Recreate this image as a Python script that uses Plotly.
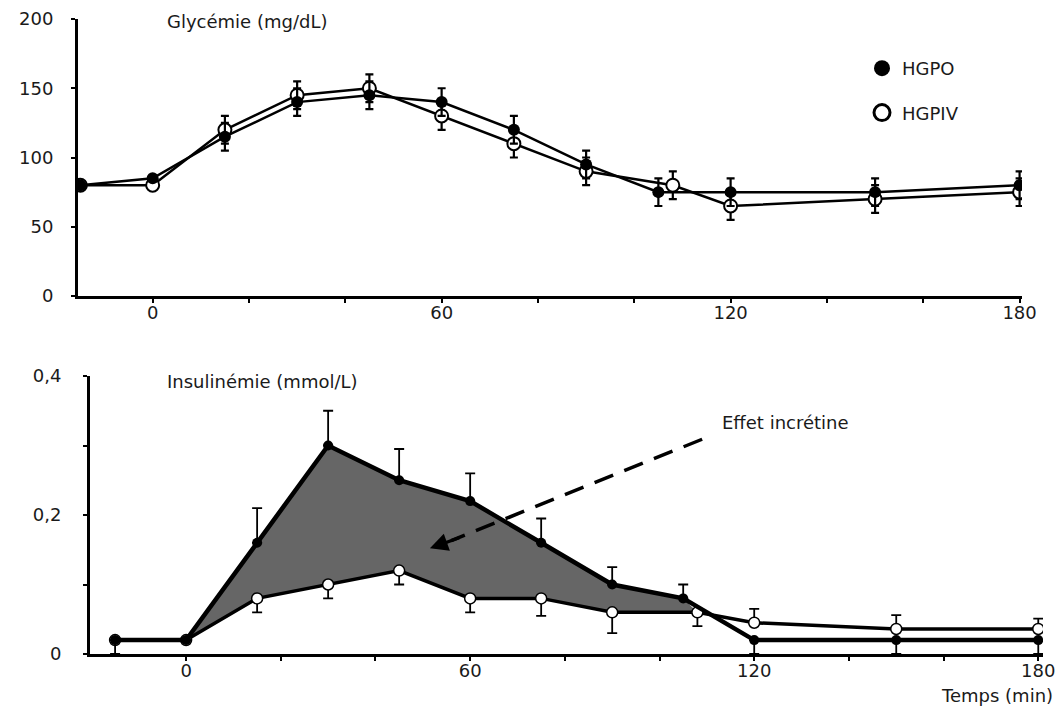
import plotly.graph_objects as go

W, H = 1063, 709

# ---------------- data ----------------
t_hgpo = [-15, 0, 15, 30, 45, 60, 75, 90, 105, 120, 150, 180]
t_hgpiv = [-15, 0, 15, 30, 45, 60, 75, 90, 108, 120, 150, 180]

gly_hgpo = [80, 85, 115, 140, 145, 140, 120, 95, 75, 75, 75, 80]
gly_hgpo_err = [0, 0, 10, 10, 10, 10, 10, 10, 10, 10, 10, 10]
gly_hgpiv = [80, 80, 120, 145, 150, 130, 110, 90, 80, 65, 70, 75]
gly_hgpiv_err = [0, 0, 10, 10, 10, 10, 10, 10, 10, 10, 10, 10]

ins_hgpo = [0.02, 0.02, 0.16, 0.30, 0.25, 0.22, 0.16, 0.10, 0.08, 0.02, 0.02, 0.02]
ins_hgpo_up = [0, 0, 0.05, 0.05, 0.045, 0.04, 0.035, 0.025, 0.02, 0, 0, 0]
ins_hgpo_dn = [0.02, 0, 0, 0, 0, 0, 0, 0, 0, 0.02, 0.02, 0.02]
ins_hgpiv = [0.02, 0.02, 0.08, 0.10, 0.12, 0.08, 0.08, 0.06, 0.06, 0.045, 0.036, 0.036]
ins_hgpiv_up = [0, 0, 0, 0, 0, 0, 0, 0, 0, 0.02, 0.02, 0.015]
ins_hgpiv_dn = [0, 0, 0.02, 0.02, 0.02, 0.02, 0.025, 0.03, 0.02, 0, 0, 0]

x_ticks = [0, 20, 40, 60, 80, 100, 120, 140, 160, 180]
x_ticktext = ["0", "", "", "60", "", "", "120", "", "", "180"]
gly_ticks = [0, 50, 100, 150, 200]
ins_ticks = [0, 0.1, 0.2, 0.3, 0.4]
ins_ticktext = ["0", "", "0,2", "", "0,4"]

FONT = "DejaVu Sans, Verdana, sans-serif"
FS = 18
TXT = "#1a1a1a"

fig = go.Figure()

# shaded incretin effect area (between curves, 0 -> crossing)
fill_x = t_hgpo[1:9] + t_hgpiv[8:0:-1]
fill_y = ins_hgpo[1:9] + ins_hgpiv[8:0:-1]
fig.add_trace(go.Scatter(x=fill_x, y=fill_y, fill="toself", fillcolor="#666666",
                         mode="lines", line=dict(width=0), showlegend=False,
                         xaxis="x2", yaxis="y2", hoverinfo="skip"))

# ---- top: glycemia ----
fig.add_trace(go.Scatter(
    x=t_hgpiv, y=gly_hgpiv, mode="lines+markers", showlegend=False,
    line=dict(color="black", width=2.5),
    marker=dict(symbol="circle", size=13, color="white", line=dict(color="black", width=2)),
    error_y=dict(type="data", array=gly_hgpiv_err, color="black", thickness=2.2, width=4),
    xaxis="x", yaxis="y"))
fig.add_trace(go.Scatter(
    x=t_hgpo, y=gly_hgpo, mode="lines+markers", showlegend=False,
    line=dict(color="black", width=2.5),
    marker=dict(symbol="circle", size=12, color="black"),
    error_y=dict(type="data", array=gly_hgpo_err, color="black", thickness=2.2, width=4),
    xaxis="x", yaxis="y"))

# ---- bottom: insulin ----
fig.add_trace(go.Scatter(
    x=t_hgpiv, y=ins_hgpiv, mode="lines+markers", showlegend=False,
    line=dict(color="black", width=3.5),
    marker=dict(symbol="circle", size=11, color="white", line=dict(color="black", width=1.5)),
    error_y=dict(type="data", symmetric=False, array=ins_hgpiv_up, arrayminus=ins_hgpiv_dn,
                 color="black", thickness=1.8, width=5),
    xaxis="x2", yaxis="y2"))
fig.add_trace(go.Scatter(
    x=t_hgpo, y=ins_hgpo, mode="lines+markers", showlegend=False,
    line=dict(color="black", width=4.5),
    marker=dict(symbol="circle", size=10, color="black"),
    error_y=dict(type="data", symmetric=False, array=ins_hgpo_up, arrayminus=ins_hgpo_dn,
                 color="black", thickness=1.8, width=5),
    xaxis="x2", yaxis="y2"))

# legend entries
fig.add_trace(go.Scatter(x=[None], y=[None], mode="markers", name="HGPO", legendgroup="a",
                         marker=dict(symbol="circle", size=16, color="black"),
                         xaxis="x", yaxis="y"))
fig.add_trace(go.Scatter(x=[None], y=[None], mode="markers", name="HGPIV", legendgroup="b",
                         marker=dict(symbol="circle", size=16, color="white",
                                     line=dict(color="black", width=3)),
                         xaxis="x", yaxis="y"))

axis_common = dict(showline=True, linecolor="black", linewidth=3, showgrid=False,
                   zeroline=False, ticks="outside", ticklen=4, tickwidth=2,
                   tickcolor="black", automargin=False,
                   tickfont=dict(family=FONT, size=FS, color=TXT))

fig.update_layout(
    width=W, height=H, autosize=False,
    margin=dict(l=0, r=0, t=0, b=0, autoexpand=False),
    paper_bgcolor="white", plot_bgcolor="white",
    font=dict(family=FONT, size=FS, color=TXT),
    xaxis=dict(domain=[78 / W, 1022 / W], range=[-15.5, 180.5], anchor="y",
               tickvals=x_ticks, ticktext=x_ticktext, ticklabelstandoff=-6, **axis_common),
    yaxis=dict(domain=[1 - 296 / H, 1 - 19 / H], range=[0, 200], anchor="x",
               tickvals=gly_ticks, ticklabelstandoff=14, **axis_common),
    xaxis2=dict(domain=[90 / W, 1043 / W], range=[-20.3, 181], anchor="y2",
                tickvals=x_ticks, ticktext=x_ticktext, ticklabelstandoff=-6, **axis_common),
    yaxis2=dict(domain=[1 - 654 / H, 1 - 376 / H], range=[0, 0.4], anchor="x2",
                tickvals=ins_ticks, ticktext=ins_ticktext, ticklabelstandoff=18, **axis_common),
    legend=dict(x=862 / W, y=1 - 50 / H, xanchor="left", yanchor="top",
                bgcolor="rgba(0,0,0,0)", tracegroupgap=18,
                font=dict(family=FONT, size=FS, color=TXT)),
    showlegend=True,
)

# dashed arrow for "Effet incrétine"
fig.add_shape(type="line", xref="x2", yref="y2", x0=109, y0=0.309, x1=56, y1=0.163,
              line=dict(color="black", width=3.5, dash="20px,12px"))
fig.add_annotation(xref="x2", yref="y2", axref="x2", ayref="y2",
                   x=51.5, y=0.152, ax=58, ay=0.168, text="", showarrow=True,
                   arrowhead=2, arrowsize=1.2, arrowwidth=3, arrowcolor="black")

fig.add_annotation(xref="paper", yref="paper", x=165 / W, y=1 - 22 / H, xanchor="left",
                   yanchor="middle", text="Glycémie (mg/dL)", showarrow=False,
                   font=dict(family=FONT, size=FS, color=TXT))
fig.add_annotation(xref="paper", yref="paper", x=165 / W, y=1 - 381 / H, xanchor="left",
                   yanchor="middle", text="Insulinémie (mmol/L)", showarrow=False,
                   font=dict(family=FONT, size=FS, color=TXT))
fig.add_annotation(xref="paper", yref="paper", x=720 / W, y=1 - 422 / H, xanchor="left",
                   yanchor="middle", text="Effet incrétine", showarrow=False,
                   font=dict(family=FONT, size=FS, color=TXT))
fig.add_annotation(xref="paper", yref="paper", x=1055 / W, y=1 - 695 / H, xanchor="right",
                   yanchor="middle", text="Temps (min)", showarrow=False,
                   font=dict(family=FONT, size=FS, color=TXT))

fig.write_html("out.html", config={"displayModeBar": False},
               post_script="document.body.style.margin='0';document.body.style.overflow='hidden';")
